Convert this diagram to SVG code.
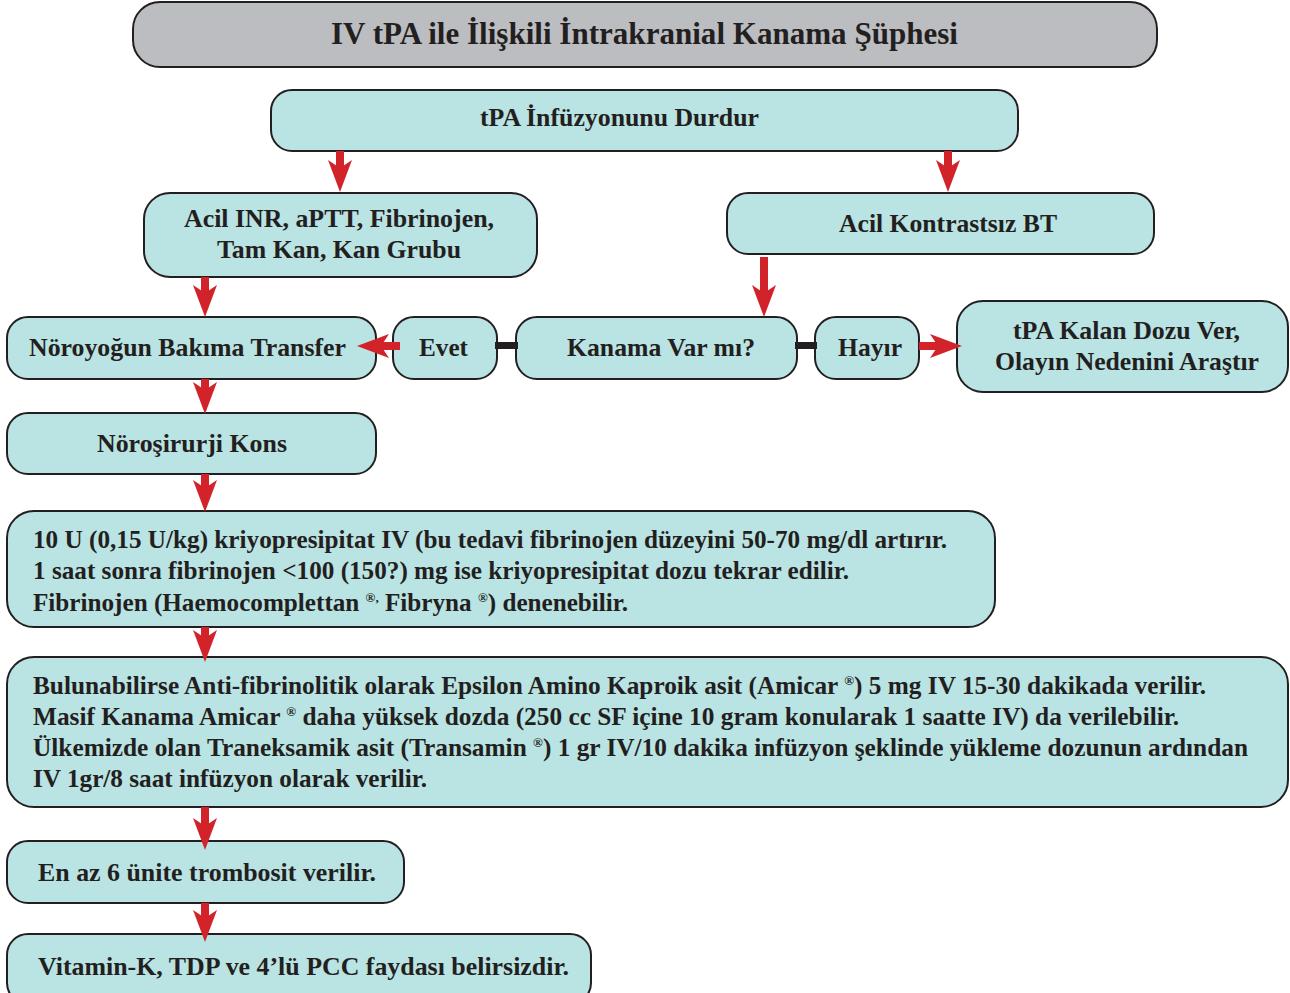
<svg xmlns="http://www.w3.org/2000/svg" width="1290" height="993" viewBox="0 0 1290 993">
<style>
.box{fill:#bae3e3;stroke:#231f20;stroke-width:2}
.title{fill:#bcbdc1;stroke:#231f20;stroke-width:2}
text{font-family:"Liberation Serif","Times New Roman",serif;font-weight:bold;fill:#231f20;font-size:25px}
.t{font-size:31px}
.sup{font-size:13px}
.arr{stroke:#d2232a;stroke-width:8;fill:none;marker-end:url(#ah)}
.bar{fill:#231f20}
</style>
<defs>
<marker id="ah" markerUnits="userSpaceOnUse" viewBox="0 0 32 24" markerWidth="32" markerHeight="24" refX="8" refY="12" orient="auto">
<path d="M0,0 L32,12 L0,24 L8,12 Z" fill="#d2232a"/>
</marker>
</defs>
<g id="n-title"><rect class="title" x="133" y="2" width="1024" height="65" rx="27"/><text class="t" x="331" y="44" textLength="627" lengthAdjust="spacingAndGlyphs">IV tPA ile İlişkili İntrakranial Kanama Şüphesi</text></g>
<g id="n-durdur"><rect class="box" x="271" y="90" width="747" height="61" rx="21"/><text x="480" y="126" textLength="279" lengthAdjust="spacingAndGlyphs">tPA İnfüzyonunu Durdur</text></g>
<g id="n-acil"><rect class="box" x="144" y="193" width="393" height="84" rx="26"/><text x="184" y="227" textLength="310" lengthAdjust="spacingAndGlyphs">Acil INR, aPTT, Fibrinojen,</text><text x="217" y="258" textLength="244" lengthAdjust="spacingAndGlyphs">Tam Kan, Kan Grubu</text></g>
<g id="n-bt"><rect class="box" x="727" y="193" width="427" height="61" rx="21"/><text x="839" y="232" textLength="218" lengthAdjust="spacingAndGlyphs">Acil Kontrastsız BT</text></g>
<g id="n-noroyogun"><rect class="box" x="7" y="317" width="369" height="62" rx="21"/><text x="29" y="356" textLength="317" lengthAdjust="spacingAndGlyphs">Nöroyoğun Bakıma Transfer</text></g>
<g id="n-evet"><rect class="box" x="393" y="317" width="104" height="62" rx="21"/><text x="419" y="356" textLength="49" lengthAdjust="spacingAndGlyphs">Evet</text></g>
<g id="n-kanama"><rect class="box" x="516" y="317" width="281" height="62" rx="21"/><text x="567" y="356" textLength="188" lengthAdjust="spacingAndGlyphs">Kanama Var mı?</text></g>
<g id="n-hayir"><rect class="box" x="815" y="317" width="104" height="62" rx="21"/><text x="838" y="356" textLength="64" lengthAdjust="spacingAndGlyphs">Hayır</text></g>
<g id="n-tpakalan"><rect class="box" x="957" y="301" width="331" height="91" rx="26"/><text x="1013" y="339" textLength="227" lengthAdjust="spacingAndGlyphs">tPA Kalan Dozu Ver,</text><text x="995" y="370" textLength="264" lengthAdjust="spacingAndGlyphs">Olayın Nedenini Araştır</text></g>
<g id="n-norosirurji"><rect class="box" x="7" y="413" width="369" height="61" rx="21"/><text x="97" y="452" textLength="190" lengthAdjust="spacingAndGlyphs">Nöroşirurji Kons</text></g>
<g id="n-kriyo"><rect class="box" x="7" y="511" width="988" height="116" rx="27"/>
<text x="33" y="548" textLength="914" lengthAdjust="spacingAndGlyphs">10 U (0,15 U/kg) kriyopresipitat IV (bu tedavi fibrinojen düzeyini 50-70 mg/dl artırır.</text>
<text x="33" y="579" textLength="816" lengthAdjust="spacingAndGlyphs">1 saat sonra fibrinojen &lt;100 (150?) mg ise kriyopresipitat dozu tekrar edilir.</text>
<text x="33" y="611" textLength="595" lengthAdjust="spacingAndGlyphs">Fibrinojen (Haemocomplettan <tspan class="sup" dy="-9">®,</tspan><tspan dy="9"> Fibryna </tspan><tspan class="sup" dy="-9">®</tspan><tspan dy="9">) denenebilir.</tspan></text>
</g>
<g id="n-antifib"><rect class="box" x="7" y="657" width="1281" height="150" rx="27"/>
<text x="33" y="694" textLength="1173" lengthAdjust="spacingAndGlyphs">Bulunabilirse Anti-fibrinolitik olarak Epsilon Amino Kaproik asit (Amicar <tspan class="sup" dy="-9">®</tspan><tspan dy="9">) 5 mg IV 15-30 dakikada verilir.</tspan></text>
<text x="33" y="725" textLength="1146" lengthAdjust="spacingAndGlyphs">Masif Kanama Amicar <tspan class="sup" dy="-9">®</tspan><tspan dy="9"> daha yüksek dozda (250 cc SF içine 10 gram konularak 1 saatte IV) da verilebilir.</tspan></text>
<text x="33" y="756" textLength="1215" lengthAdjust="spacingAndGlyphs">Ülkemizde olan Traneksamik asit (Transamin <tspan class="sup" dy="-9">®</tspan><tspan dy="9">) 1 gr IV/10 dakika infüzyon şeklinde yükleme dozunun ardından</tspan></text>
<text x="33" y="787" textLength="394" lengthAdjust="spacingAndGlyphs">IV 1gr/8 saat infüzyon olarak verilir.</text>
</g>
<g id="n-trombosit"><rect class="box" x="7" y="841" width="397" height="62" rx="21"/><text x="38" y="881" textLength="338" lengthAdjust="spacingAndGlyphs">En az 6 ünite trombosit verilir.</text></g>
<g id="n-vitk"><rect class="box" x="7" y="934" width="584" height="70" rx="21"/><text x="38" y="975" textLength="531" lengthAdjust="spacingAndGlyphs">Vitamin-K, TDP ve 4’lü PCC faydası belirsizdir.</text></g>
<g id="connectors">
<line class="arr" x1="340" y1="151" x2="340" y2="168"/>
<line class="arr" x1="948" y1="151" x2="948" y2="168"/>
<line class="arr" x1="205" y1="277" x2="205" y2="293"/>
<line class="arr" x1="764" y1="257" x2="764" y2="293"/>
<line class="arr" x1="400" y1="346" x2="381" y2="346"/>
<line class="arr" x1="919" y1="346" x2="938" y2="346"/>
<line class="arr" x1="205" y1="379" x2="205" y2="390"/>
<line class="arr" x1="205" y1="474" x2="205" y2="488"/>
<line class="arr" x1="205" y1="627" x2="205" y2="638"/>
<line class="arr" x1="205" y1="807" x2="205" y2="826"/>
<line class="arr" x1="205" y1="903" x2="205" y2="918"/>
<rect class="bar" x="495" y="342" width="23" height="7"/>
<rect class="bar" x="795" y="342" width="22" height="7"/>
</g>
</svg>
